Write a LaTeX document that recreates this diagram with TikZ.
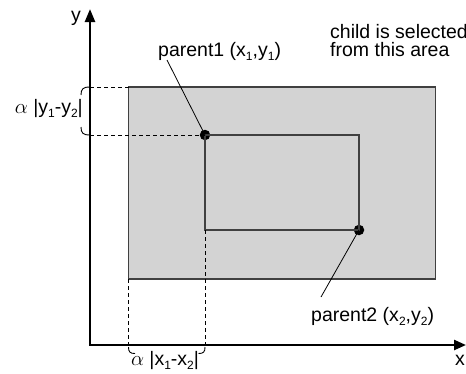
\documentclass[tikz,border=0pt]{standalone}
\usepackage{fontspec}
\setmainfont{Liberation Sans}
\usetikzlibrary{arrows.meta}
\definecolor{areagray}{RGB}{211,211,211}
\definecolor{edgegray}{RGB}{64,64,64}
\newcommand\sbx[1]{\raisebox{-0.4ex}{\fontsize{12}{12}\selectfont #1}}
\begin{document}
\begin{tikzpicture}[x=1pt,y=-1pt,
  lbl/.style={font=\fontsize{19.5}{18}\selectfont, inner sep=0pt},
  axisln/.style={line width=2.4pt, {Triangle[length=13pt,width=10pt]}-{Triangle[length=12pt,width=10pt]}},
  dashln/.style={dash pattern=on 4pt off 3pt, line width=0.9pt},
  rectln/.style={draw=edgegray, line width=1.3pt},
  dot/.style={circle, fill=black, inner sep=0pt, minimum size=10.5pt},
  lead/.style={line width=0.8pt},
  brk/.style={line width=0.9pt}]
\useasboundingbox (0,0) rectangle (466,373);
% coordinates
\coordinate (O) at (90,345);
\coordinate (ytip) at (90,9);
\coordinate (xtip) at (466,345);
\coordinate (A1) at (128.5,87);
\coordinate (A2) at (435.5,279);
% area
\filldraw[fill=areagray, rectln] (A1) rectangle (A2);
% parents
\node[dot] (p1) at (205,135) {};
\node[dot] (p2) at (359,230) {};
\draw[rectln] (p1.center) rectangle (p2.center);
% dashed guides
\draw[dashln] (90,87) -- (A1);
\draw[dashln] (90,135) -- (p1.center);
\draw[dashln] (A1 |- A2) -- (128.5,347);
\draw[dashln] (205,230) -- (205,347);
% brackets
\draw[brk] (90,87) .. controls (83,87) and (81,89) .. (81,95);
\draw[brk] (81,127) .. controls (81,133) and (83,135) .. (90,135);
\draw[brk] (128.5,347) .. controls (128.5,352) and (130,353.5) .. (135,353.5);
\draw[brk] (205,347) .. controls (205,352) and (203.5,353.5) .. (198.5,353.5);
% axes
\draw[axisln] (ytip) -- (O) -- (xtip);
\node[lbl, anchor=base] (ylab) at (76,21) {y};
\node[lbl, anchor=base] (xlab) at (460,365) {x};
% labels
\node[lbl, anchor=base west] (p1lbl) at (158,56.5) {parent1 (x\sbx{1},y\sbx{1})};
\node[lbl, anchor=base west] (p2lbl) at (311,321.5) {parent2 (x\sbx{2},y\sbx{2})};
\node[lbl, anchor=base west, align=left] (area) at (330,56.5) {child is selected\\from this area};
\node[lbl, anchor=base east] (aly) at (83,113) {$\alpha$ |y\sbx{1}-y\sbx{2}|};
\node[lbl, anchor=base] (alx) at (165,365.7) {$\alpha$ |x\sbx{1}-x\sbx{2}|};
% leaders
\coordinate (l1) at (167,60);
\coordinate (l2) at (321,297);
\draw[lead] (l1) -- (p1.center);
\draw[lead] (l2) -- (p2.center);
\end{tikzpicture}
\end{document}
